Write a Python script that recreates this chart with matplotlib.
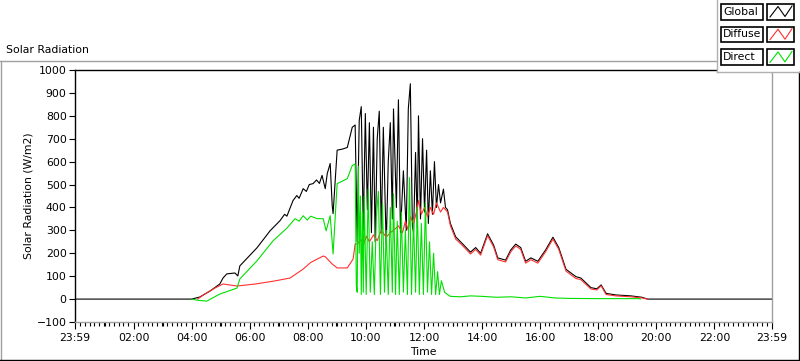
import matplotlib
matplotlib.use("Agg")
import matplotlib.pyplot as plt
from matplotlib.patches import Rectangle
from matplotlib.lines import Line2D

plt.rcParams['font.family'] = ['DejaVu Sans']
plt.rcParams['font.size'] = 7.8

# time in hours after 23:59, values in W/m2
global_t = [0.00, 4.00, 4.28, 4.63, 4.97, 5.08, 5.21, 5.49, 5.59, 5.66, 6.25, 6.70, 7.04, 7.20,
            7.28, 7.49, 7.62, 7.70, 7.84, 7.95, 8.05, 8.18, 8.30, 8.40, 8.49, 8.60, 8.67, 8.77,
            8.84, 8.87, 9.01, 9.20, 9.36, 9.53, 9.63,
            9.70, 9.77, 9.84, 9.91, 9.98, 10.05, 10.12, 10.19, 10.26, 10.32, 10.39, 10.46,
            10.53, 10.60, 10.70, 10.77, 10.84, 10.91, 10.95, 11.05, 11.12, 11.19, 11.29, 11.39,
            11.46, 11.53, 11.60, 11.64, 11.71, 11.77, 11.81, 11.88, 11.95, 12.02, 12.09, 12.15,
            12.22, 12.29, 12.36, 12.43, 12.50, 12.57, 12.67, 12.74, 12.81,
            12.91, 13.09, 13.26, 13.43, 13.60, 13.78, 13.95, 14.19, 14.40, 14.54, 14.81, 14.99,
            15.16, 15.33, 15.50, 15.68, 15.92, 16.19, 16.44, 16.64, 16.89, 17.23, 17.40, 17.75,
            17.95, 18.10, 18.27, 18.61, 19.13, 19.50, 19.70, 24.00]
global_v = [0, 0, 9, 35, 66, 92, 110, 114, 101, 145, 224, 298, 342, 370,
            362, 430, 452, 440, 482, 470, 500, 504, 520, 505, 540, 482, 548, 592,
            408, 373, 650, 655, 662, 750, 760,
            250, 780, 840, 300, 810, 390, 770, 290, 750, 250, 700, 820,
            290, 750, 230, 600, 770, 350, 830, 400, 870, 290, 560, 300,
            830, 940, 320, 290, 640, 310, 800, 350, 700, 380, 650, 330,
            560, 370, 600, 400, 500, 420, 480, 400, 390,
            330, 272, 250, 228, 205, 225, 200, 285, 235, 180, 170, 215,
            240, 225, 165, 180, 165, 215, 270, 225, 130, 98, 92, 50,
            45, 62, 25, 18, 14, 8, 0, 0]

diffuse_t = [4.20, 4.45, 4.80, 5.08, 5.56, 6.20, 6.85, 7.39, 7.84, 8.10, 8.53, 8.60, 8.84,
             9.01, 9.36, 9.56, 9.63,
             9.70, 9.84, 9.91, 10.02, 10.12, 10.26, 10.39, 10.53, 10.70, 10.84, 10.95, 11.12,
             11.26, 11.36, 11.46, 11.53, 11.64, 11.74, 11.81, 11.91, 12.02, 12.12, 12.22, 12.33,
             12.43, 12.57, 12.67, 12.81,
             12.91, 13.09, 13.26, 13.43, 13.60, 13.78, 13.95, 14.19, 14.40, 14.54, 14.81, 14.99,
             15.16, 15.33, 15.50, 15.68, 15.92, 16.19, 16.44, 16.64, 16.89, 17.23, 17.40, 17.75,
             17.95, 18.10, 18.27, 18.61, 19.13, 19.50, 19.70]
diffuse_v = [0, 22, 48, 66, 57, 66, 79, 92, 131, 160, 188, 185, 153,
             136, 136, 175, 241,
             240, 260, 235, 275, 250, 280, 255, 300, 270, 290, 300, 320,
             290, 340, 300, 360, 330, 380, 430, 370, 400, 360, 400, 370,
             420, 380, 400, 380,
             320, 262, 242, 220, 197, 217, 192, 277, 227, 172, 162, 207,
             232, 217, 157, 172, 157, 207, 262, 217, 122, 90, 85, 44,
             40, 58, 20, 14, 10, 5, 0]

direct_t = [4.00, 4.20, 4.52, 4.97, 5.56, 5.66, 6.25, 6.80, 7.29, 7.56, 7.70, 7.84, 7.98,
            8.10, 8.32, 8.53, 8.63, 8.77, 8.87, 9.01, 9.36, 9.53,
            9.63, 9.67, 9.70, 9.74, 9.77, 9.81, 9.84, 9.88, 9.91, 9.94, 10.01, 10.08, 10.15,
            10.22, 10.29, 10.36, 10.43, 10.50, 10.57, 10.64, 10.70, 10.77, 10.84, 10.91, 10.95,
            11.02, 11.08, 11.15, 11.22, 11.29, 11.36, 11.43, 11.50, 11.57, 11.64, 11.71, 11.77,
            11.84, 11.91, 11.98, 12.05, 12.12, 12.19, 12.26, 12.33, 12.40, 12.47, 12.53, 12.60,
            12.71, 12.81,
            12.91, 13.26, 13.60, 14.00, 14.50, 15.00, 15.50, 16.00, 16.50, 17.00, 18.00, 19.40,
            19.45]
direct_v = [0, -5, -9, 22, 48, 88, 167, 254, 311, 351, 340, 364, 345,
            362, 351, 351, 298, 364, 197, 504, 526, 583,
            590, 60, 30, 580, 200, 450, 20, 380, 30, 450, 20, 480, 30,
            250, 20, 360, 470, 20, 420, 30, 300, 20, 400, 30, 460,
            20, 340, 20, 380, 30, 300, 20, 530, 20, 350, 30, 400,
            20, 330, 20, 420, 30, 250, 20, 200, 20, 120, 20, 80,
            30, 20,
            12, 10, 14, 12, 8, 10, 5, 12, 5, 3, 2, 2,
            0]

tick_hours = [-1 / 60, 2, 4, 6, 8, 10, 12, 14, 16, 18, 20, 22, 24 - 1 / 60]
tick_labels = ['23:59', '02:00', '04:00', '06:00', '08:00', '10:00', '12:00',
               '14:00', '16:00', '18:00', '20:00', '22:00', '23:59']

W, H = 800, 361


def fx(x):
    return x / W


def fy(y):
    return 1 - y / H


fig = plt.figure(figsize=(8, 3.61), dpi=100, facecolor='white')
ax = fig.add_axes([fx(75), fy(322), (772 - 75) / W, (322 - 70) / H])

ax.plot(global_t, global_v, color='black', lw=0.8)
ax.plot(diffuse_t, diffuse_v, color='#ff3030', lw=0.8)
ax.plot(direct_t, direct_v, color='#00e000', lw=0.8)

ax.set_xlim(-1 / 60, 24 - 1 / 60)
ax.set_ylim(-100, 1000)
ax.set_yticks(range(-100, 1001, 100))
ax.set_xticks(tick_hours)
ax.set_xticklabels(tick_labels)
ax.set_xticks([h / 6 - 1 / 60 for h in range(0, 145) if h % 12 != 0] + [h for h in range(1, 24, 2)],
              minor=True)
ax.tick_params(axis='y', direction='out', length=4, width=0.8, pad=2)
ax.tick_params(axis='x', which='major', direction='out', length=5, width=0.8, pad=3)
ax.tick_params(axis='x', which='minor', direction='out', length=3, width=0.8)

ax.spines['left'].set_color('black')
ax.spines['top'].set_color('black')
ax.spines['right'].set_color('#a0a0a0')
ax.spines['bottom'].set_color('#a0a0a0')
for s in ax.spines.values():
    s.set_linewidth(1.0)

ax.set_xlabel('Time', labelpad=3)
ax.set_ylabel('Solar Radiation (W/m2)', labelpad=2)

# outer panel frame
fig.add_artist(Line2D([fx(0), fx(717)], [fy(61), fy(61)], color='#a0a0a0', lw=1.0))
fig.add_artist(Line2D([fx(0.7), fx(0.7)], [fy(61), fy(359)], color='#a0a0a0', lw=1.0))
fig.add_artist(Line2D([fx(0), fx(800)], [fy(359.5), fy(359.5)], color='black', lw=1.0))
fig.add_artist(Line2D([fx(799.3), fx(799.3)], [fy(72), fy(359.5)], color='black', lw=1.0))
fig.text(fx(6), fy(50), 'Solar Radiation', ha='left', va='center')

# legend panel
fig.add_artist(Rectangle((fx(717), fy(72)), (800 - 717) / W, 72 / H, facecolor='white',
                         edgecolor='none'))
fig.add_artist(Line2D([fx(717), fx(717)], [fy(0), fy(72)], color='#b0b0b0', lw=1.0))
fig.add_artist(Line2D([fx(717), fx(800)], [fy(72), fy(72)], color='#b0b0b0', lw=1.0))

legend_names = ['Global', 'Diffuse', 'Direct']
legend_colors = ['black', '#ff3030', '#00e000']
for i, (name, col) in enumerate(zip(legend_names, legend_colors)):
    top = 4 + i * 22.7
    bot = top + 15.5
    fig.add_artist(Rectangle((fx(721), fy(bot)), 42 / W, (bot - top) / H, facecolor='white',
                             edgecolor='black', lw=1.2))
    fig.text(fx(723), fy((top + bot) / 2), name, ha='left', va='center')
    fig.add_artist(Rectangle((fx(767), fy(bot)), 27 / W, (bot - top) / H, facecolor='white',
                             edgecolor='black', lw=1.2))
    zx = [770, 778, 785, 792]
    zy = [bot - 2.5, top + 2.5, bot - 3, top + 2]
    fig.add_artist(Line2D([fx(v) for v in zx], [fy(v) for v in zy], color=col, lw=0.8))

fig.savefig('out.png', dpi=100, facecolor='white')
